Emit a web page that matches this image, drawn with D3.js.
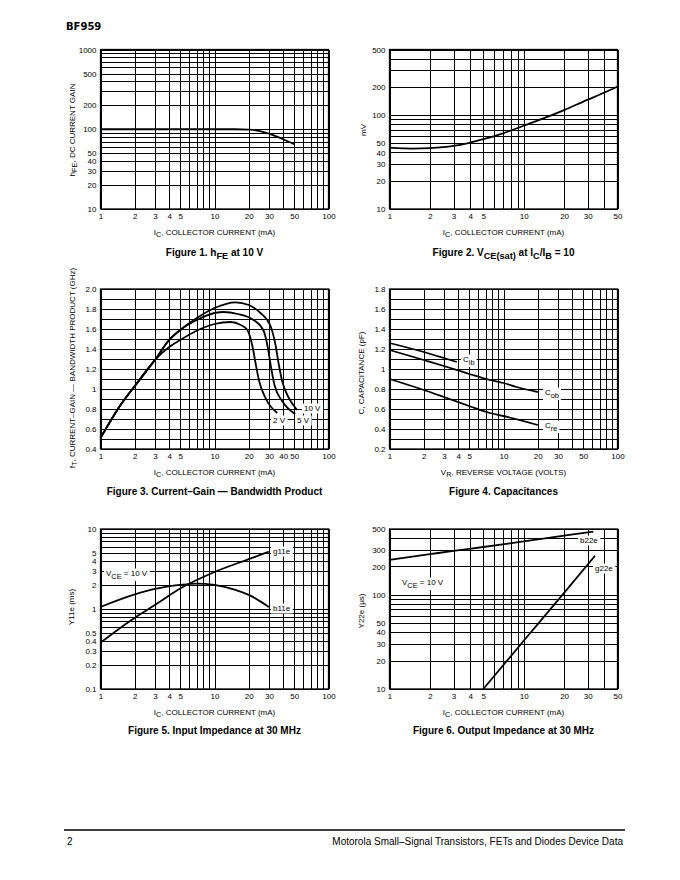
<!DOCTYPE html>
<html><head><meta charset="utf-8">
<script src="https://cdn.jsdelivr.net/npm/d3@7"></script>
<style>body{margin:0;background:#fff}svg{display:block}</style>
</head><body>
<svg id="c" width="680" height="880"></svg>
<script>
// ---------- DATA ----------
// Figure 1: hFE vs IC
const fig1X = [1, 2, 5, 10, 15, 20, 25, 30, 40, 50];
const fig1Hfe = [100, 100, 100, 100, 100, 99, 95, 88, 75, 65];
// Figure 2: VCE(sat) vs IC (mV)
const fig2X = [1, 1.5, 2, 3, 4, 5, 7, 10, 20, 30, 40, 50];
const fig2Vce = [45, 44, 44.5, 47, 51, 55.5, 64, 77, 113, 146, 174, 202];
// Figure 3: fT vs IC (GHz)
const fig3X2V = [1, 1.5, 2, 3, 4, 5, 7.5, 10, 13.8, 17, 19.4, 21.4, 22.9, 24.5, 28, 35.5];
const fig3Ft2V = [0.51, 0.84, 1.03, 1.29, 1.42, 1.49, 1.60, 1.65, 1.67, 1.64, 1.59, 1.44, 1.26, 1.09, 0.91, 0.76];
const fig3X5V = [1, 1.5, 2, 3, 4, 5, 7, 10, 12, 16, 22, 27, 29.4, 31.4, 33.6, 39.2, 51];
const fig3Ft5V = [0.51, 0.84, 1.03, 1.29, 1.49, 1.59, 1.69, 1.76, 1.77, 1.75, 1.69, 1.58, 1.41, 1.21, 1.04, 0.88, 0.75];
const fig3X10V = [1, 1.5, 2, 3, 4, 5, 7, 10, 15.3, 20, 25.3, 31, 34.3, 36.7, 39.2, 44.9, 53];
const fig3Ft10V = [0.51, 0.84, 1.03, 1.29, 1.49, 1.59, 1.71, 1.81, 1.867, 1.84, 1.76, 1.63, 1.44, 1.24, 1.08, 0.91, 0.79];
// Figure 4: capacitances vs VR (pF)
const fig4XCib = [1, 2, 3, 3.9];
const fig4Cib = [1.26, 1.17, 1.11, 1.07];
const fig4XCob = [1, 2, 3, 5, 7.6, 10, 13, 20];
const fig4Cob = [1.19, 1.09, 1.03, 0.95, 0.89, 0.86, 0.82, 0.77];
const fig4XCre = [1, 2, 3, 5, 7.6, 10, 20];
const fig4Cre = [0.90, 0.79, 0.72, 0.63, 0.56, 0.53, 0.44];
// Figure 5: Y11e (ms)
const fig5XG = [1, 2, 3, 5, 10, 20, 30];
const fig5G11e = [0.38, 0.78, 1.12, 1.8, 2.9, 4.2, 5.2];
const fig5XB = [1, 2, 3, 5, 7, 10, 15, 20, 30];
const fig5B11e = [1.06, 1.52, 1.78, 2.0, 2.08, 2.0, 1.75, 1.5, 1.06];
// Figure 6: Y22e (µs)
const fig6XB = [1, 2, 3, 5, 10, 20, 33];
const fig6B22e = [235, 270, 293, 322, 370, 425, 470];
const fig6XG = [5, 10, 20, 34];
const fig6G22e = [10, 32.5, 105, 260];

// tick labels
const xTicks100 = [1, 2, 3, 4, 5, 10, 20, 30, 50, 100];
const xTicks50 = [1, 2, 3, 4, 5, 10, 20, 30, 50];
const fig3XTicks = [1, 2, 3, 4, 5, 10, 20, 30, 40, 50, 100];
const fig1YTicks = [10, 20, 30, 40, 50, 100, 200, 500, 1000];
const fig2YTicks = [10, 20, 30, 40, 50, 100, 200, 500];
const fig3YTicks = [0.4, 0.6, 0.8, 1, 1.2, 1.4, 1.6, 1.8, 2.0];
const fig3YLabels = ["0.4", "0.6", "0.8", "1", "1.2", "1.4", "1.6", "1.8", "2.0"];
const fig4YTicks = [0.2, 0.4, 0.6, 0.8, 1, 1.2, 1.4, 1.6, 1.8];
const fig4YLabels = ["0.2", "0.4", "0.6", "0.8", "1", "1.2", "1.4", "1.6", "1.8"];
const fig5YTicks = [0.1, 0.2, 0.3, 0.4, 0.5, 1, 2, 3, 4, 5, 10];
const fig6YTicks = [10, 20, 30, 40, 50, 100, 200, 300, 500];

// ---------- DRAWING ----------
const svg = d3.select("#c");
const NARROW = "'Liberation Sans Narrow','Arial Narrow','Liberation Sans',sans-serif";
const SANS = "'Liberation Sans',Arial,Helvetica,sans-serif";

function logGrid(lo, hi) {
  const out = [];
  for (let d = lo; d < hi; d *= 10) for (let m = 1; m < 10; m++) out.push(+(d * m).toPrecision(3));
  out.push(hi);
  return out;
}
function linGrid(lo, hi, step) {
  const out = [];
  const n = Math.round((hi - lo) / step);
  for (let i = 0; i <= n; i++) out.push(+(lo + i * step).toFixed(3));
  return out;
}
function rich(sel, parts, size) {
  const sh = size * 0.32;
  let shifted = false;
  parts.forEach(p => {
    const sub = p[0] === "_";
    const t = sel.append("tspan").text(sub ? p.slice(1) : p);
    if (sub) { t.attr("font-size", size * 0.92); if (!shifted) { t.attr("dy", sh); shifted = true; } }
    else if (shifted) { t.attr("dy", -sh); shifted = false; }
  });
}
function text(x, y, parts, opt = {}) {
  const size = opt.size || 8;
  const t = svg.append("text").attr("x", x).attr("y", y)
    .attr("font-family", opt.family || NARROW).attr("font-size", size)
    .attr("font-weight", opt.weight || "normal").attr("text-anchor", opt.anchor || "start")
    .attr("fill", "#000");
  if (opt.rotate) t.attr("transform", `rotate(-90,${x},${y})`);
  rich(t, parts, size);
  return t;
}

function panel(o) {
  const W = o.x1 - o.x0, H = o.y1 - o.y0;
  const x = d3.scaleLog().domain(o.xd).range([o.x0, o.x1]);
  const y = (o.ylog ? d3.scaleLog() : d3.scaleLinear()).domain(o.yd).range([o.y1, o.y0]);
  const g = svg.append("g");
  const gx = g.append("g").attr("transform", `translate(0,${o.y1})`)
    .call(d3.axisBottom(x).tickValues(o.xgrid).tickSize(-H).tickFormat(""));
  const gy = g.append("g").attr("transform", `translate(${o.x0},0)`)
    .call(d3.axisLeft(y).tickValues(o.ygrid).tickSize(-W).tickFormat(""));
  [gx, gy].forEach(s => {
    s.select(".domain").remove();
    s.selectAll("line").attr("stroke", "#000").attr("stroke-width", 1).attr("shape-rendering", "crispEdges");
  });
  g.append("rect").attr("x", o.x0).attr("y", o.y0).attr("width", W).attr("height", H)
    .attr("fill", "none").attr("stroke", "#000").attr("stroke-width", 1.3);

  const tx = g.append("g").attr("transform", `translate(0,${o.y1})`)
    .call(d3.axisBottom(x).tickValues(o.xticks).tickSize(0).tickPadding(4).tickFormat(d => String(d)));
  const ty = g.append("g").attr("transform", `translate(${o.x0},0)`)
    .call(d3.axisLeft(y).tickValues(o.yticks).tickSize(0).tickPadding(4)
      .tickFormat(d => o.ylabels ? o.ylabels[o.yticks.indexOf(d)] : String(d)));
  [tx, ty].forEach(s => {
    s.select(".domain").remove();
    s.attr("font-family", NARROW).attr("font-size", 8);
    s.selectAll("text").attr("fill", "#000");
  });

  const line = d3.line().x(d => x(d[0])).y(d => y(d[1])).curve(d3.curveMonotoneX);
  o.series.forEach(s => {
    g.append("path").datum(d3.zip(s.x, s.y)).attr("d", line)
      .attr("fill", "none").attr("stroke", "#000").attr("stroke-width", 1.8)
      .attr("stroke-linejoin", "round");
  });
  (o.labels || []).forEach(l => {
    const t = text(l.x, l.y, l.parts, { size: 8 });
    const b = t.node().getBBox();
    svg.insert("rect", () => t.node()).attr("x", b.x - 2).attr("y", b.y - 0.5)
      .attr("width", b.width + 4).attr("height", b.height + 1).attr("fill", "#fff");
  });
  // axis titles
  text((o.x0 + o.x1) / 2, o.xtitleY, o.xtitle, { anchor: "middle" });
  text(o.ytitleX, o.ytitleY, o.ytitle, { anchor: "middle", rotate: true });
  text((o.x0 + o.x1) / 2, o.titleY, o.title, { anchor: "middle", family: SANS, weight: "bold", size: 10 });
}

const IC = ["I", "_C", ", COLLECTOR CURRENT (mA)"];

panel({
  x0: 100.5, x1: 328.5, y0: 49.5, y1: 209, xd: [1, 100], yd: [10, 1000], ylog: true,
  xgrid: logGrid(1, 100), ygrid: logGrid(10, 1000), xticks: xTicks100, yticks: fig1YTicks,
  series: [{ x: fig1X, y: fig1Hfe }],
  xtitle: IC, xtitleY: 234.5, ytitle: ["h", "_FE", ", DC CURRENT GAIN"], ytitleX: 74.5, ytitleY: 130,
  title: ["Figure 1. h", "_FE", " at 10 V"], titleY: 256
});
panel({
  x0: 389.5, x1: 617.5, y0: 49.5, y1: 209, xd: [1, 50], yd: [10, 500], ylog: true,
  xgrid: logGrid(1, 10).concat([20, 30, 40, 50]), ygrid: logGrid(10, 100).concat([200, 300, 400, 500]),
  xticks: xTicks50, yticks: fig2YTicks,
  series: [{ x: fig2X, y: fig2Vce }],
  xtitle: IC, xtitleY: 234.5, ytitle: ["mV"], ytitleX: 366, ytitleY: 130,
  title: ["Figure 2. V", "_CE(sat)", " at I", "_C", "/I", "_B", " = 10"], titleY: 256
});
panel({
  x0: 100.5, x1: 328.5, y0: 289, y1: 449, xd: [1, 100], yd: [0.4, 2.0], ylog: false,
  xgrid: logGrid(1, 100), ygrid: linGrid(0.4, 2.0, 0.1), xticks: fig3XTicks, yticks: fig3YTicks, ylabels: fig3YLabels,
  series: [{ x: fig3X2V, y: fig3Ft2V }, { x: fig3X5V, y: fig3Ft5V }, { x: fig3X10V, y: fig3Ft10V }],
  labels: [
    { x: 304, y: 411, parts: ["10 V"] },
    { x: 273, y: 423, parts: ["2 V"] },
    { x: 297, y: 423, parts: ["5 V"] }
  ],
  xtitle: IC, xtitleY: 474.5, ytitle: ["f", "_T", ", CURRENT–GAIN — BANDWIDTH PRODUCT (GHz)"], ytitleX: 74.5, ytitleY: 368,
  title: ["Figure 3. Current–Gain — Bandwidth Product"], titleY: 494.5
});
panel({
  x0: 389.5, x1: 617.5, y0: 289, y1: 449, xd: [1, 100], yd: [0.2, 1.8], ylog: false,
  xgrid: logGrid(1, 100), ygrid: linGrid(0.2, 1.8, 0.1), xticks: xTicks100, yticks: fig4YTicks, ylabels: fig4YLabels,
  series: [{ x: fig4XCib, y: fig4Cib }, { x: fig4XCob, y: fig4Cob }, { x: fig4XCre, y: fig4Cre }],
  labels: [
    { x: 463, y: 362, parts: ["C", "_ib"] },
    { x: 545, y: 395, parts: ["C", "_ob"] },
    { x: 545, y: 428, parts: ["C", "_re"] }
  ],
  xtitle: ["V", "_R", ", REVERSE VOLTAGE (VOLTS)"], xtitleY: 474.5,
  ytitle: ["C, CAPACITANCE (pF)"], ytitleX: 363.5, ytitleY: 373,
  title: ["Figure 4. Capacitances"], titleY: 494.5
});
panel({
  x0: 100.5, x1: 328.5, y0: 529, y1: 689, xd: [1, 100], yd: [0.1, 10], ylog: true,
  xgrid: logGrid(1, 100), ygrid: logGrid(0.1, 10), xticks: xTicks100, yticks: fig5YTicks,
  series: [{ x: fig5XG, y: fig5G11e }, { x: fig5XB, y: fig5B11e }],
  labels: [
    { x: 273, y: 554, parts: ["g11e"] },
    { x: 273, y: 611, parts: ["b11e"] },
    { x: 106, y: 576, parts: ["V", "_CE", " = 10 V"] }
  ],
  xtitle: IC, xtitleY: 714.5, ytitle: ["Y11e (ms)"], ytitleX: 73.5, ytitleY: 607,
  title: ["Figure 5. Input Impedance at 30 MHz"], titleY: 734
});
panel({
  x0: 389.5, x1: 617.5, y0: 529, y1: 689, xd: [1, 50], yd: [10, 500], ylog: true,
  xgrid: logGrid(1, 10).concat([20, 30, 40, 50]), ygrid: logGrid(10, 100).concat([200, 300, 400, 500]),
  xticks: xTicks50, yticks: fig6YTicks,
  series: [{ x: fig6XB, y: fig6B22e }, { x: fig6XG, y: fig6G22e }],
  labels: [
    { x: 580, y: 543, parts: ["b22e"] },
    { x: 595, y: 571, parts: ["g22e"] },
    { x: 402, y: 585, parts: ["V", "_CE", " = 10 V"] }
  ],
  xtitle: IC, xtitleY: 714.5, ytitle: ["Y22e (µs)"], ytitleX: 363.5, ytitleY: 611,
  title: ["Figure 6. Output Impedance at 30 MHz"], titleY: 734
});

// header & footer
text(66, 30, ["BF959"], { family: "'DejaVu Sans',sans-serif", weight: "bold", size: 10 });
svg.append("line").attr("x1", 64).attr("x2", 625).attr("y1", 830).attr("y2", 830)
  .attr("stroke", "#000").attr("stroke-width", 1.6);
text(67, 845, ["2"], { family: SANS, size: 10 });
text(623, 845, ["Motorola Small–Signal Transistors, FETs and Diodes Device Data"], { family: SANS, size: 10, anchor: "end" });
</script>
</body></html>
